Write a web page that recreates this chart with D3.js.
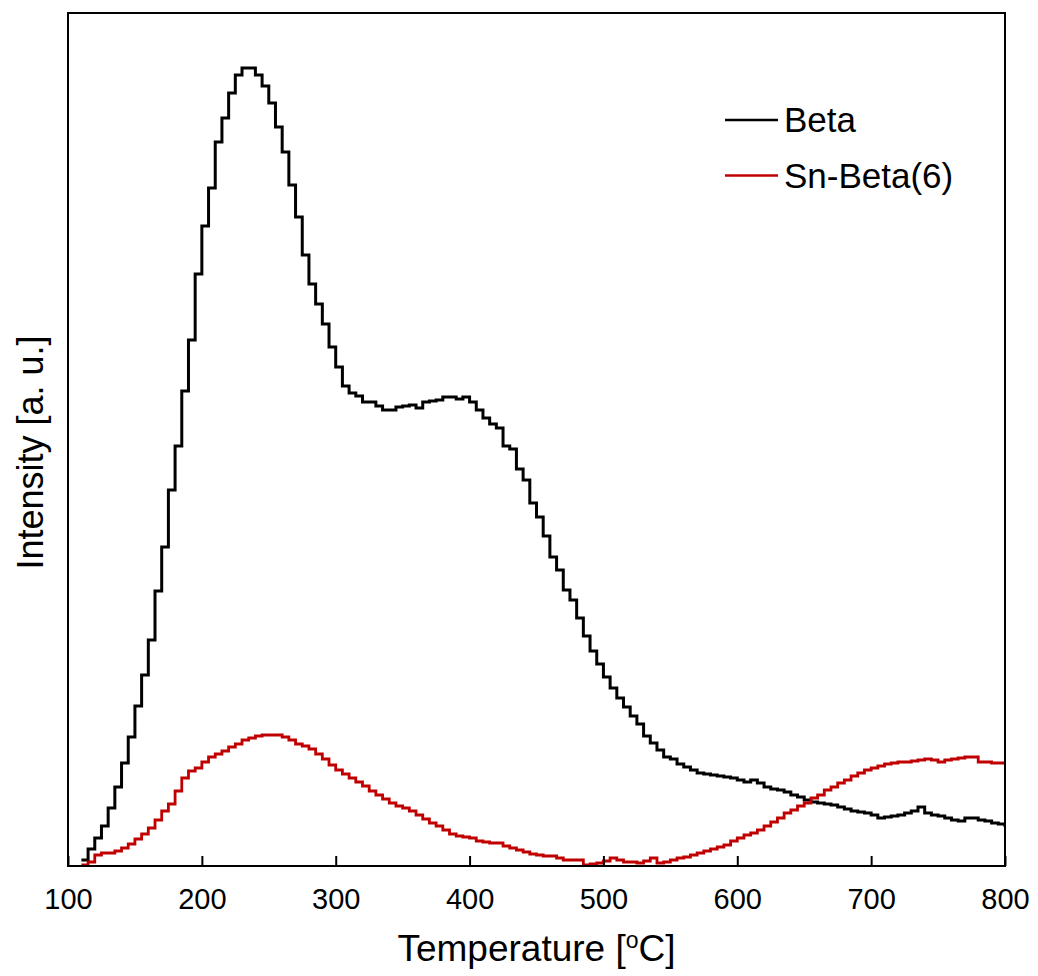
<!DOCTYPE html>
<html>
<head>
<meta charset="utf-8">
<script src="https://cdn.jsdelivr.net/npm/d3@7"></script>
<style>
  html, body { margin: 0; padding: 0; background: #fff; }
  svg { display: block; font-family: "Liberation Sans", Arial, sans-serif; }
</style>
</head>
<body>
<svg id="chart" width="1038" height="976"></svg>
<script>
// TPD profiles, sampled every 5 °C from 110 to 800 °C (intensity in a.u.)
const temperatureStart = 110;
const temperatureStep = 5;

const betaIntensity = [
  6, 17, 28, 40, 58, 79, 103, 129, 160, 191,
  226, 275, 319, 376, 420, 475, 526, 592, 640, 678,
  724, 748, 773, 791, 798, 798, 791, 780, 763, 739,
  714, 681, 649, 611, 582, 562, 542, 519, 499, 480,
  473, 470, 464, 464, 460, 456, 456, 459, 460, 461,
  458, 464, 465, 466, 469, 469, 467, 469, 464, 456,
  448, 442, 438, 420, 417, 397, 386, 363, 349, 330,
  309, 296, 276, 266, 248, 230, 215, 202, 189, 178,
  168, 159, 150, 142, 130, 123, 116, 109, 107, 102,
  99, 96, 93, 92, 91, 90, 89, 88, 86, 84,
  86, 83, 79, 77, 76, 74, 71, 69, 66, 64,
  63, 62, 61, 59, 57, 55, 54, 53, 51, 48,
  49, 50, 51, 53, 55, 59, 53, 51, 50, 48,
  46, 45, 48, 48, 46, 45, 43, 42, 39
];

const snBetaIntensity = [
  1, 4, 11, 13, 13, 15, 18, 22, 27, 32,
  38, 46, 55, 62, 75, 88, 95, 98, 104, 109,
  112, 115, 119, 122, 126, 128, 130, 131, 131, 131,
  129, 126, 122, 120, 117, 112, 107, 101, 96, 92,
  88, 84, 80, 75, 71, 67, 63, 60, 58, 55,
  51, 47, 43, 40, 36, 32, 30, 29, 28, 25,
  24, 23, 23, 20, 18, 16, 14, 12, 11, 10,
  10, 8, 6, 6, 6, 1, 2, 3, 5, 8,
  6, 4, 4, 3, 5, 8, 3, 4, 6, 8,
  9, 11, 13, 15, 17, 19, 21, 25, 28, 31,
  33, 36, 40, 44, 48, 53, 56, 60, 63, 68,
  71, 76, 79, 83, 86, 90, 93, 96, 98, 100,
  102, 103, 104, 104, 105, 106, 107, 106, 104, 106,
  107, 108, 109, 109, 104, 104, 103, 103, 103
];

const xTicks = [100, 200, 300, 400, 500, 600, 700, 800];

const seriesNames = ["Beta", "Sn-Beta(6)"];
const seriesColors = ["#000000", "#c00000"];

const toPoints = arr => arr.map((v, i) => ({ t: temperatureStart + i * temperatureStep, v }));
const series = [
  { name: seriesNames[0], color: seriesColors[0], width: 3, points: toPoints(betaIntensity) },
  { name: seriesNames[1], color: seriesColors[1], width: 2.8, points: toPoints(snBetaIntensity) }
];

const svg = d3.select("#chart");
const plot = { left: 68, right: 1005, top: 13, bottom: 866 };

const x = d3.scaleLinear().domain([100, 800]).range([plot.left, plot.right]);
const y = d3.scaleLinear().domain([0, 853]).range([plot.bottom, plot.top]);

// Curves
const line = d3.line()
  .x(d => x(d.t))
  .y(d => y(d.v))
  .curve(d3.curveStepAfter);

svg.append("clipPath").attr("id", "plotClip")
  .append("rect")
  .attr("x", plot.left).attr("y", plot.top)
  .attr("width", plot.right - plot.left).attr("height", plot.bottom - plot.top);

svg.append("g").attr("clip-path", "url(#plotClip)")
  .selectAll("path")
  .data(series)
  .join("path")
  .attr("fill", "none")
  .attr("stroke", d => d.color)
  .attr("stroke-width", d => d.width)
  .attr("stroke-linejoin", "miter")
  .attr("d", d => line(d.points));

// Frame
svg.append("rect")
  .attr("x", plot.left).attr("y", plot.top)
  .attr("width", plot.right - plot.left).attr("height", plot.bottom - plot.top)
  .attr("fill", "none").attr("stroke", "#000").attr("stroke-width", 2);

// Bottom axis: inward ticks
const xAxis = d3.axisBottom(x).tickValues(xTicks).tickSizeInner(-10).tickSizeOuter(0).tickPadding(22);
const gx = svg.append("g").attr("transform", `translate(0,${plot.bottom})`).call(xAxis);
gx.select(".domain").remove();
gx.selectAll(".tick line").attr("stroke", "#000").attr("stroke-width", 2);
gx.selectAll(".tick text")
  .attr("fill", "#000")
  .attr("font-size", 29)
  .attr("font-family", "'Liberation Sans', Arial, sans-serif")
  .attr("dy", "0.71em");

// Axis titles
const xTitle = svg.append("text")
  .attr("x", (plot.left + plot.right) / 2)
  .attr("y", 961)
  .attr("text-anchor", "middle")
  .attr("font-size", 37)
  .attr("fill", "#000");
xTitle.append("tspan").text("Temperature [");
xTitle.append("tspan").attr("font-size", 23).attr("dy", -13).text("o");
xTitle.append("tspan").attr("dy", 13).text("C]");

svg.append("text")
  .attr("transform", `translate(43,${(plot.top + plot.bottom) / 2 + 13}) rotate(-90)`)
  .attr("text-anchor", "middle")
  .attr("font-size", 36)
  .attr("fill", "#000")
  .text("Intensity [a. u.]");

// Legend
const legend = svg.append("g").attr("transform", "translate(725,120)");
const item = legend.selectAll("g")
  .data(series)
  .join("g")
  .attr("transform", (d, i) => `translate(0,${i * 55.5})`);
item.append("line")
  .attr("x1", 0).attr("x2", 53)
  .attr("y1", 0).attr("y2", 0)
  .attr("stroke", d => d.color)
  .attr("stroke-width", 2.5);
item.append("text")
  .attr("x", 59)
  .attr("y", 12)
  .attr("font-size", 35)
  .attr("fill", "#000")
  .text(d => d.name);
</script>
</body>
</html>
